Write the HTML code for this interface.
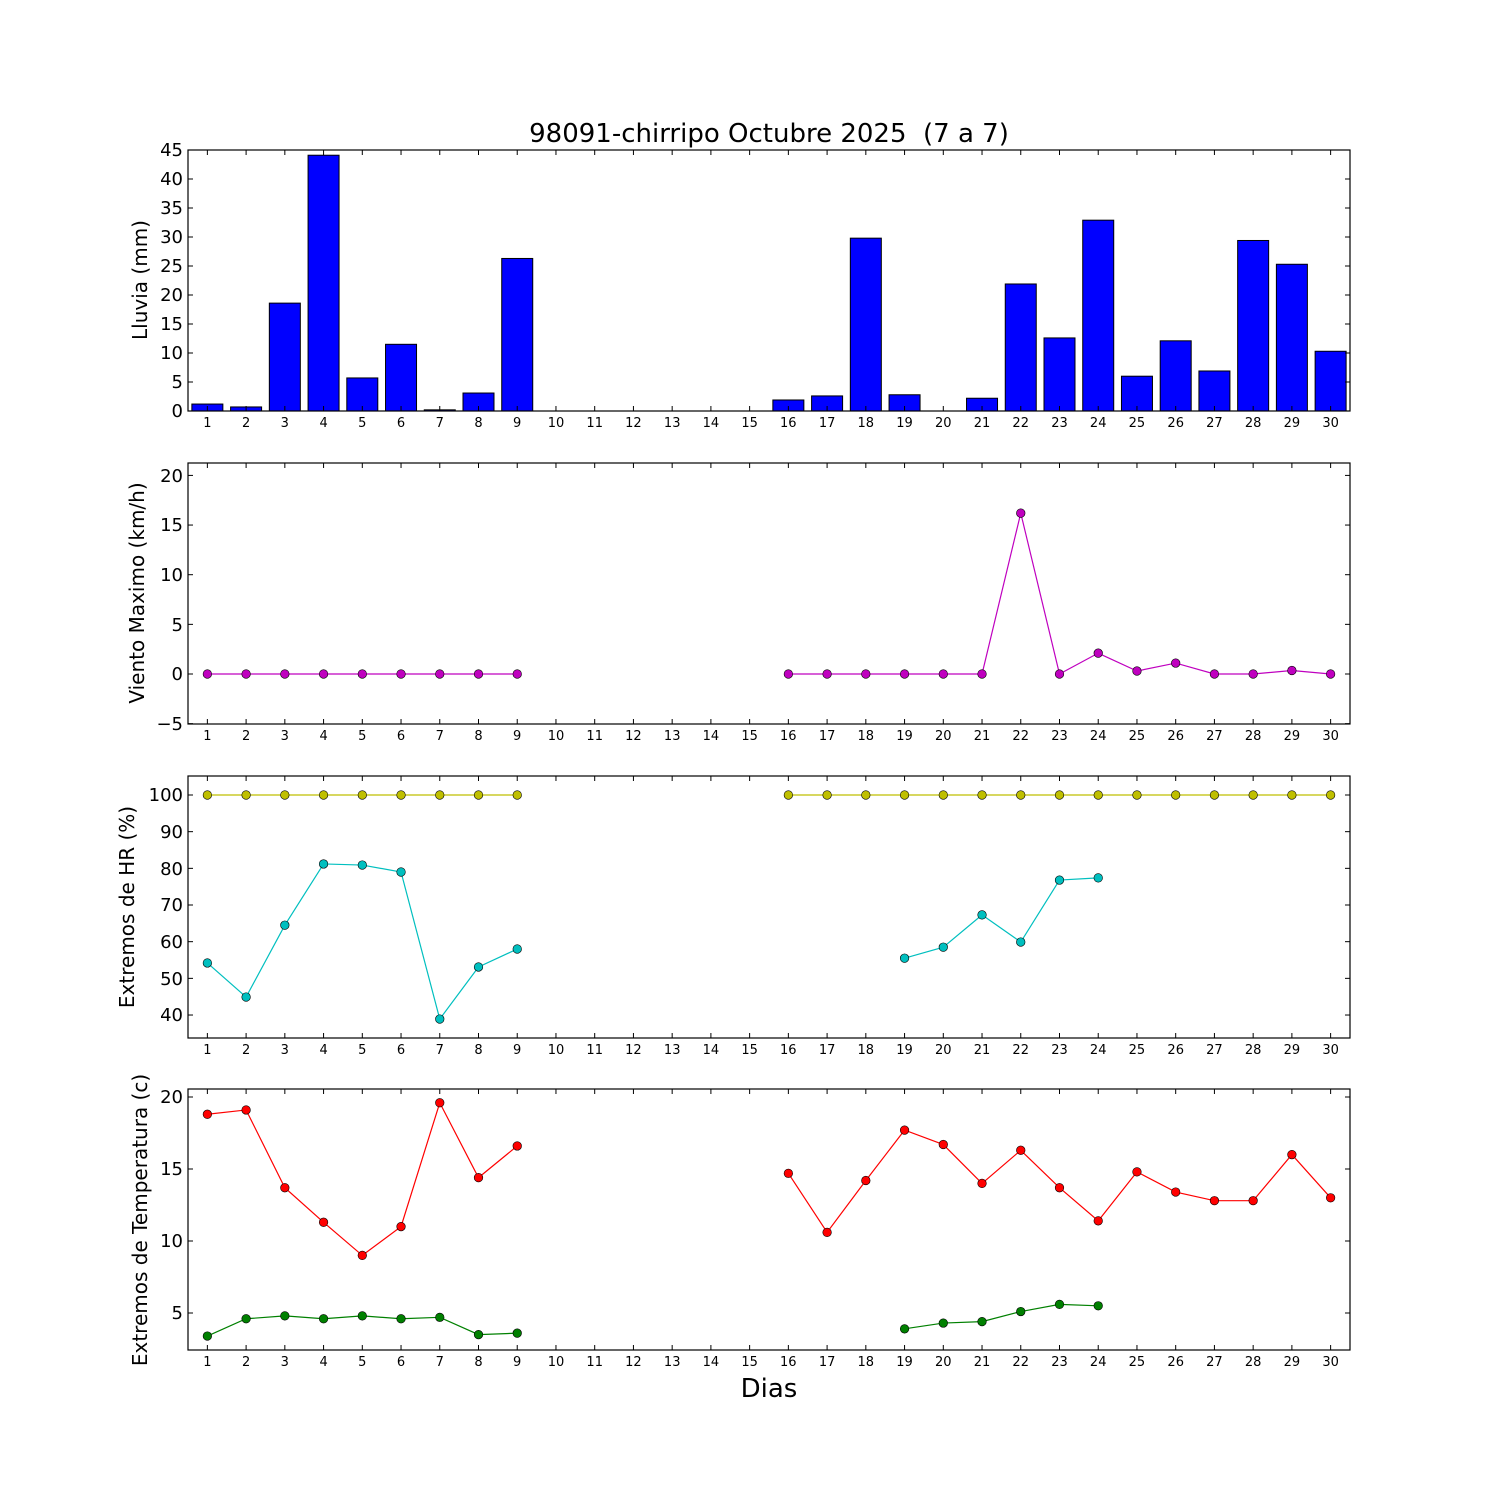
<!DOCTYPE html>
<html><head><meta charset="utf-8"><style>
html,body{margin:0;padding:0;background:#fff}
svg{display:block}
text{font-family:"DejaVu Sans","Liberation Sans",sans-serif;fill:#000}
.yt{font-size:18px;text-anchor:end}
.xt{font-size:13px;text-anchor:middle}
.yl{font-size:20px;text-anchor:middle}
</style></head><body>
<svg id="s" width="1500" height="1500" viewBox="0 0 1500 1500" xmlns="http://www.w3.org/2000/svg">
<rect width="1500" height="1500" fill="#fff"/>
<g id="data"></g>
<text x="769" y="142" style="font-size:26px;text-anchor:middle;white-space:pre" xml:space="preserve">98091-chirripo Octubre 2025  (7 a 7)</text>
<text x="769" y="1397" style="font-size:26px;text-anchor:middle">Dias</text>
<text class="yl" transform="translate(147,280) rotate(-90)">Lluvia (mm)</text>
<text class="yl" transform="translate(144,593) rotate(-90)">Viento Maximo (km/h)</text>
<text class="yl" transform="translate(134,907) rotate(-90)">Extremos de HR (%)</text>
<text class="yl" transform="translate(147,1220) rotate(-90)">Extremos de Temperatura (c)</text>
<text class="yt" x="183" y="417">0</text><text class="yt" x="183" y="388">5</text><text class="yt" x="183" y="359">10</text><text class="yt" x="183" y="330">15</text><text class="yt" x="183" y="301">20</text><text class="yt" x="183" y="272">25</text><text class="yt" x="183" y="243">30</text><text class="yt" x="183" y="214">35</text><text class="yt" x="183" y="185">40</text><text class="yt" x="183" y="156">45</text>
<text class="yt" x="183" y="730">−5</text><text class="yt" x="183" y="680">0</text><text class="yt" x="183" y="631">5</text><text class="yt" x="183" y="581">10</text><text class="yt" x="183" y="531">15</text><text class="yt" x="183" y="482">20</text>
<text class="yt" x="183" y="1021">40</text><text class="yt" x="183" y="985">50</text><text class="yt" x="183" y="948">60</text><text class="yt" x="183" y="911">70</text><text class="yt" x="183" y="875">80</text><text class="yt" x="183" y="838">90</text><text class="yt" x="183" y="801">100</text>
<text class="yt" x="183" y="1319">5</text><text class="yt" x="183" y="1247">10</text><text class="yt" x="183" y="1175">15</text><text class="yt" x="183" y="1103">20</text>
<g transform="translate(0,427)">
<text class="xt" x="207.4">1</text><text class="xt" x="246.1">2</text><text class="xt" x="284.8">3</text><text class="xt" x="323.6">4</text><text class="xt" x="362.3">5</text><text class="xt" x="401.0">6</text><text class="xt" x="439.8">7</text><text class="xt" x="478.5">8</text><text class="xt" x="517.2">9</text><text class="xt" x="556.0">10</text><text class="xt" x="594.7">11</text><text class="xt" x="633.4">12</text><text class="xt" x="672.2">13</text><text class="xt" x="710.9">14</text><text class="xt" x="749.6">15</text><text class="xt" x="788.3">16</text><text class="xt" x="827.1">17</text><text class="xt" x="865.8">18</text><text class="xt" x="904.5">19</text><text class="xt" x="943.3">20</text><text class="xt" x="982.0">21</text><text class="xt" x="1020.7">22</text><text class="xt" x="1059.5">23</text><text class="xt" x="1098.2">24</text><text class="xt" x="1136.9">25</text><text class="xt" x="1175.7">26</text><text class="xt" x="1214.4">27</text><text class="xt" x="1253.1">28</text><text class="xt" x="1291.9">29</text><text class="xt" x="1330.6">30</text>
</g>
<g transform="translate(0,740)">
<text class="xt" x="207.4">1</text><text class="xt" x="246.1">2</text><text class="xt" x="284.8">3</text><text class="xt" x="323.6">4</text><text class="xt" x="362.3">5</text><text class="xt" x="401.0">6</text><text class="xt" x="439.8">7</text><text class="xt" x="478.5">8</text><text class="xt" x="517.2">9</text><text class="xt" x="556.0">10</text><text class="xt" x="594.7">11</text><text class="xt" x="633.4">12</text><text class="xt" x="672.2">13</text><text class="xt" x="710.9">14</text><text class="xt" x="749.6">15</text><text class="xt" x="788.3">16</text><text class="xt" x="827.1">17</text><text class="xt" x="865.8">18</text><text class="xt" x="904.5">19</text><text class="xt" x="943.3">20</text><text class="xt" x="982.0">21</text><text class="xt" x="1020.7">22</text><text class="xt" x="1059.5">23</text><text class="xt" x="1098.2">24</text><text class="xt" x="1136.9">25</text><text class="xt" x="1175.7">26</text><text class="xt" x="1214.4">27</text><text class="xt" x="1253.1">28</text><text class="xt" x="1291.9">29</text><text class="xt" x="1330.6">30</text>
</g>
<g transform="translate(0,1054)">
<text class="xt" x="207.4">1</text><text class="xt" x="246.1">2</text><text class="xt" x="284.8">3</text><text class="xt" x="323.6">4</text><text class="xt" x="362.3">5</text><text class="xt" x="401.0">6</text><text class="xt" x="439.8">7</text><text class="xt" x="478.5">8</text><text class="xt" x="517.2">9</text><text class="xt" x="556.0">10</text><text class="xt" x="594.7">11</text><text class="xt" x="633.4">12</text><text class="xt" x="672.2">13</text><text class="xt" x="710.9">14</text><text class="xt" x="749.6">15</text><text class="xt" x="788.3">16</text><text class="xt" x="827.1">17</text><text class="xt" x="865.8">18</text><text class="xt" x="904.5">19</text><text class="xt" x="943.3">20</text><text class="xt" x="982.0">21</text><text class="xt" x="1020.7">22</text><text class="xt" x="1059.5">23</text><text class="xt" x="1098.2">24</text><text class="xt" x="1136.9">25</text><text class="xt" x="1175.7">26</text><text class="xt" x="1214.4">27</text><text class="xt" x="1253.1">28</text><text class="xt" x="1291.9">29</text><text class="xt" x="1330.6">30</text>
</g>
<g transform="translate(0,1366)">
<text class="xt" x="207.4">1</text><text class="xt" x="246.1">2</text><text class="xt" x="284.8">3</text><text class="xt" x="323.6">4</text><text class="xt" x="362.3">5</text><text class="xt" x="401.0">6</text><text class="xt" x="439.8">7</text><text class="xt" x="478.5">8</text><text class="xt" x="517.2">9</text><text class="xt" x="556.0">10</text><text class="xt" x="594.7">11</text><text class="xt" x="633.4">12</text><text class="xt" x="672.2">13</text><text class="xt" x="710.9">14</text><text class="xt" x="749.6">15</text><text class="xt" x="788.3">16</text><text class="xt" x="827.1">17</text><text class="xt" x="865.8">18</text><text class="xt" x="904.5">19</text><text class="xt" x="943.3">20</text><text class="xt" x="982.0">21</text><text class="xt" x="1020.7">22</text><text class="xt" x="1059.5">23</text><text class="xt" x="1098.2">24</text><text class="xt" x="1136.9">25</text><text class="xt" x="1175.7">26</text><text class="xt" x="1214.4">27</text><text class="xt" x="1253.1">28</text><text class="xt" x="1291.9">29</text><text class="xt" x="1330.6">30</text>
</g>
</svg>
<script>
(function(){
var NS="http://www.w3.org/2000/svg",g=document.getElementById("data");
function el(t,a){var e=document.createElementNS(NS,t);for(var k in a)e.setAttribute(k,a[k]);g.appendChild(e);return e;}
function X(d){return 188+(d-0.5)*38.733;}
var L=188,R=1350;
var panels=[[150,411],[463,724],[776,1038],[1089,1350]];
var rain={1:1.2,2:0.7,3:18.6,4:44.1,5:5.7,6:11.5,7:0.2,8:3.1,9:26.3,16:1.9,17:2.6,18:29.8,19:2.8,20:0,21:2.2,22:21.9,23:12.6,24:32.9,25:6.0,26:12.1,27:6.9,28:29.4,29:25.3,30:10.3};
for(var k in rain){var v=rain[k],h=v*5.8;el("rect",{x:X(+k)-15.5,y:411-h,width:31,height:h,fill:"#0000ff",stroke:"#000","stroke-width":1});}
function series(pts,col,yf){
 var segs=[],cur=[];
 for(var i=0;i<pts.length;i++){var p=pts[i];if(p===null){if(cur.length)segs.push(cur);cur=[];}else cur.push(p);}
 if(cur.length)segs.push(cur);
 segs.forEach(function(s){el("polyline",{points:s.map(function(p){return X(p[0])+","+yf(p[1]);}).join(" "),fill:"none",stroke:col,"stroke-width":1.2});});
 segs.forEach(function(s){s.forEach(function(p){el("circle",{cx:X(p[0]),cy:yf(p[1]),r:4.3,fill:col,stroke:"#000","stroke-width":0.6});});});
}
function mk(obj){var a=[],last=null;for(var d=1;d<=30;d++){if(obj[d]!==undefined){if(last!==null&&d-last>1)a.push(null);a.push([d,obj[d]]);last=d;}}return a;}
var wind={};for(var d=1;d<=9;d++)wind[d]=0;
[16,17,18,19,20,21].forEach(function(d){wind[d]=0;});
wind[22]=16.2;wind[23]=0;wind[24]=2.1;wind[25]=0.3;wind[26]=1.1;wind[27]=0;wind[28]=0;wind[29]=0.35;wind[30]=0;
series(mk(wind),"#bf00bf",function(v){return 674-v*9.93;});
var hy=function(v){return 795+(100-v)*3.667;};
var hmax={};for(var d=1;d<=9;d++)hmax[d]=100;for(var d=16;d<=30;d++)hmax[d]=100;
series(mk(hmax),"#bfbf00",hy);
series(mk({1:54.2,2:44.9,3:64.5,4:81.2,5:80.9,6:79,7:38.9,8:53.1,9:58,19:55.5,20:58.5,21:67.3,22:59.9,23:76.8,24:77.4}),"#00bfbf",hy);
var ty=function(v){return 1313-(v-5)*14.4;};
series(mk({1:18.8,2:19.1,3:13.7,4:11.3,5:9,6:11,7:19.6,8:14.4,9:16.6,16:14.7,17:10.6,18:14.2,19:17.7,20:16.7,21:14,22:16.3,23:13.7,24:11.4,25:14.8,26:13.4,27:12.8,28:12.8,29:16,30:13}),"#ff0000",ty);
series(mk({1:3.4,2:4.6,3:4.8,4:4.6,5:4.8,6:4.6,7:4.7,8:3.5,9:3.6,19:3.9,20:4.3,21:4.4,22:5.1,23:5.6,24:5.5}),"#008000",ty);
var yt=[[0,5,10,15,20,25,30,35,40,45].map(function(v){return 411-v*5.8;}),
 [-5,0,5,10,15,20].map(function(v){return 674-v*9.93;}),
 [40,50,60,70,80,90,100].map(hy),[5,10,15,20].map(ty)];
panels.forEach(function(p,i){
 el("rect",{x:L,y:p[0],width:R-L,height:p[1]-p[0],fill:"none",stroke:"#000","stroke-width":1.2});
 for(var d=1;d<=30;d++){var x=X(d);el("line",{x1:x,x2:x,y1:p[1],y2:p[1]-5,stroke:"#000"});el("line",{x1:x,x2:x,y1:p[0],y2:p[0]+5,stroke:"#000"});}
 yt[i].forEach(function(y){el("line",{x1:L,x2:L+5,y1:y,y2:y,stroke:"#000"});el("line",{x1:R,x2:R-5,y1:y,y2:y,stroke:"#000"});});
});
})();
</script>
</body></html>
